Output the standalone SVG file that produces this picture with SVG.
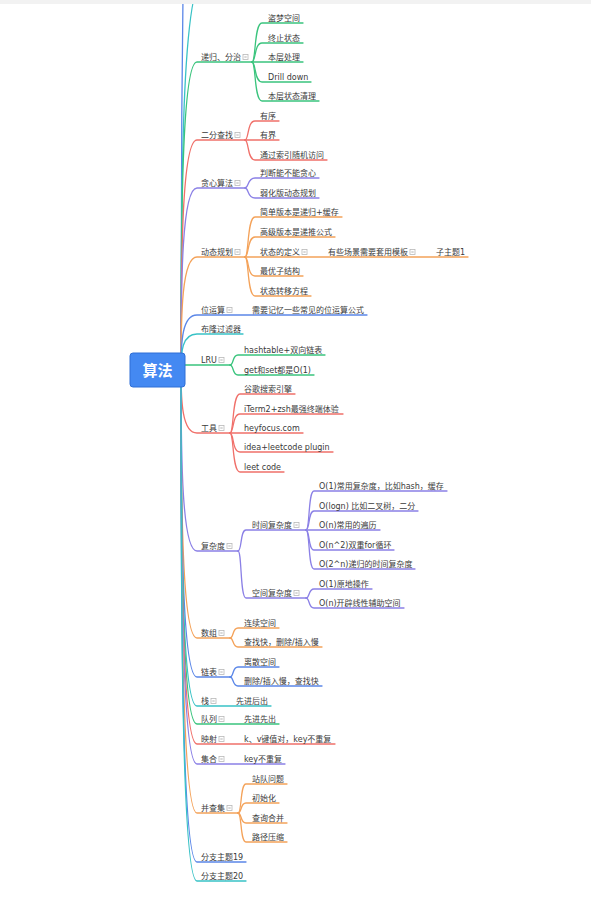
<svg xmlns="http://www.w3.org/2000/svg" width="591" height="905" viewBox="0 0 591 905">
<style>
.t{font-family:"DejaVu Sans","Noto Sans CJK SC",sans-serif;font-size:8px;fill:#3a3a3a}
.root{font-family:"Noto Sans CJK SC","DejaVu Sans",sans-serif;font-size:15px;font-weight:bold;fill:#fff}
path{fill:none;stroke-width:1.3;stroke-linecap:round}
.g{stroke:#3ac47d}.r{stroke:#f0706a}.p{stroke:#8b80e6}.o{stroke:#f4a259}.b{stroke:#5b87e8}.c{stroke:#38c2c6}
.ic rect{fill:#fff;stroke:#b8b8b8;stroke-width:0.8}
.ic line{stroke:#a0a0a0;stroke-width:0.8}
</style>
<defs>
<g id="icon" class="ic"><rect x="0" y="-2.5" width="5" height="5"/><line x1="1.3" y1="0" x2="3.7" y2="0"/></g>
</defs>
<rect width="591" height="905" fill="#fff"/>
<g id="connectors">
<path class="b" d="M181,370 C181,150 183,-100 186,-300"/>
<path class="c" d="M181,370 C181,150 183,-20 205,-25"/>
<!-- 递归、分治 -->
<path class="g" d="M181,370 C181,216 182,62 197,62 L252,62"/>
<path class="g" d="M252,62 C256,62 254,23 262,23 L303,23"/>
<path class="g" d="M252,62 C256,62 254,43 262,43 L303,43"/>
<path class="g" d="M252,62 L303,62"/>
<path class="g" d="M252,62 C256,62 254,82 262,82 L311,82"/>
<path class="g" d="M252,62 C256,62 254,101 262,101 L319,101"/>
<!-- 二分查找 -->
<path class="r" d="M181,370 C181,255 182,140 197,140 L245,140"/>
<path class="r" d="M245,140 C249,140 247,121 255,121 L279,121"/>
<path class="r" d="M245,140 L279,140"/>
<path class="r" d="M245,140 C249,140 247,160 255,160 L327,160"/>
<!-- 贪心算法 -->
<path class="p" d="M181,370 C181,279 182,188 197,188 L245,188"/>
<path class="p" d="M245,188 C249,188 247,178 255,178 L319,178"/>
<path class="p" d="M245,188 C249,188 247,198 255,198 L319,198"/>
<!-- 动态规划 -->
<path class="o" d="M181,370 C181,313 182,257 197,257 L245,257"/>
<path class="o" d="M245,257 C249,257 247,217 255,217 L342,217"/>
<path class="o" d="M245,257 C249,257 247,237 255,237 L335,237"/>
<path class="o" d="M245,257 L468,257"/>
<path class="o" d="M245,257 C249,257 247,276 255,276 L303,276"/>
<path class="o" d="M245,257 C249,257 247,296 255,296 L311,296"/>
<!-- 位运算 -->
<path class="b" d="M181,370 C181,342 182,315 197,315 L367,315"/>
<!-- 布隆过滤器 -->
<path class="c" d="M181,370 C181,352 182,334 197,334 L243,334"/>
<!-- LRU -->
<path class="g" d="M185,365 L230,365"/>
<path class="g" d="M230,365 C234,365 232,355 238,355 L325,355"/>
<path class="g" d="M230,365 C234,365 232,375 238,375 L314,375"/>
<!-- 工具 -->
<path class="r" d="M181,370 C181,401 182,433 197,433 L230,433"/>
<path class="r" d="M230,433 C234,433 232,394 240,394 L295,394"/>
<path class="r" d="M230,433 C234,433 232,414 240,414 L343,414"/>
<path class="r" d="M230,433 L303,433"/>
<path class="r" d="M230,433 C234,433 232,452 240,452 L333,452"/>
<path class="r" d="M230,433 C234,433 232,472 240,472 L284,472"/>
<!-- 复杂度 -->
<path class="p" d="M181,370 C181,460 182,551 197,551 L238,551"/>
<path class="p" d="M238,551 C242,551 240,530 246,530 L306,530"/>
<path class="p" d="M238,551 C242,551 240,598 246,598 L306,598"/>
<path class="p" d="M306,530 C310,530 308,491 314,491 L447,491"/>
<path class="p" d="M306,530 C310,530 308,511 314,511 L418,511"/>
<path class="p" d="M306,530 L380,530"/>
<path class="p" d="M306,530 C310,530 308,550 314,550 L394,550"/>
<path class="p" d="M306,530 C310,530 308,569 314,569 L415,569"/>
<path class="p" d="M306,598 C310,598 308,589 314,589 L372,589"/>
<path class="p" d="M306,598 C310,598 308,608 314,608 L404,608"/>
<!-- 数组 -->
<path class="o" d="M181,370 C181,504 182,638 197,638 L230,638"/>
<path class="o" d="M230,638 C234,638 232,628 238,628 L279,628"/>
<path class="o" d="M230,638 C234,638 232,647 238,647 L322,647"/>
<!-- 链表 -->
<path class="b" d="M181,370 C181,524 182,677 197,677 L230,677"/>
<path class="b" d="M230,677 C234,677 232,667 238,667 L279,667"/>
<path class="b" d="M230,677 C234,677 232,686 238,686 L322,686"/>
<!-- 栈 -->
<path class="c" d="M181,370 C181,538 182,706 197,706 L271,706"/>
<!-- 队列 -->
<path class="g" d="M181,370 C181,547 182,724 197,724 L279,724"/>
<!-- 映射 -->
<path class="r" d="M181,370 C181,557 182,744 197,744 L335,744"/>
<!-- 集合 -->
<path class="p" d="M181,370 C181,567 182,764 197,764 L285,764"/>
<!-- 并查集 -->
<path class="o" d="M181,370 C181,591 182,813 197,813 L238,813"/>
<path class="o" d="M238,813 C242,813 240,784 246,784 L287,784"/>
<path class="o" d="M238,813 C242,813 240,803 246,803 L279,803"/>
<path class="o" d="M238,813 C242,813 240,823 246,823 L287,823"/>
<path class="o" d="M238,813 C242,813 240,842 246,842 L287,842"/>
<!-- 分支主题19/20 -->
<path class="b" d="M181,370 C181,616 182,862 197,862 L246,862"/>
<path class="c" d="M181,370 C181,625 182,881 197,881 L246,881"/>
</g>
<rect x="0" y="0" width="591" height="4" fill="#f2f2f2"/>
<g id="root">
<rect x="130" y="353" width="55" height="34" rx="3" fill="#4489f2" stroke="#2f6fd6" stroke-width="1"/>
<text class="root" x="157.5" y="375.5" text-anchor="middle">算法</text>
</g>
<g id="n-recursion">
<text class="t" x="201" y="60">递归、分治</text><use href="#icon" x="243" y="57"/>
</g>
<g id="n-r1"><text class="t" x="268" y="21">盗梦空间</text></g>
<g id="n-r2"><text class="t" x="268" y="41">终止状态</text></g>
<g id="n-r3"><text class="t" x="268" y="60">本层处理</text></g>
<g id="n-r4"><text class="t" x="268" y="80">Drill down</text></g>
<g id="n-r5"><text class="t" x="268" y="99">本层状态清理</text></g>
<g id="n-binary">
<text class="t" x="201" y="138">二分查找</text><use href="#icon" x="235" y="135"/>
</g>
<g id="n-b1"><text class="t" x="260" y="119">有序</text></g>
<g id="n-b2"><text class="t" x="260" y="138">有界</text></g>
<g id="n-b3"><text class="t" x="260" y="158">通过索引随机访问</text></g>
<g id="n-greedy">
<text class="t" x="201" y="186">贪心算法</text><use href="#icon" x="235" y="183"/>
</g>
<g id="n-g1"><text class="t" x="260" y="176">判断能不能贪心</text></g>
<g id="n-g2"><text class="t" x="260" y="196">弱化版动态规划</text></g>
<g id="n-dp">
<text class="t" x="201" y="255">动态规划</text><use href="#icon" x="235" y="252"/>
</g>
<g id="n-dp1"><text class="t" x="260" y="215">简单版本是递归+缓存</text></g>
<g id="n-dp2"><text class="t" x="260" y="235">高级版本是递推公式</text></g>
<g id="n-dp3"><text class="t" x="260" y="255">状态的定义</text><use href="#icon" x="302" y="252"/></g>
<g id="n-dp3a"><text class="t" x="328" y="255">有些场景需要套用模板</text><use href="#icon" x="410" y="252"/></g>
<g id="n-dp3a1"><text class="t" x="436" y="255">子主题1</text></g>
<g id="n-dp4"><text class="t" x="260" y="274">最优子结构</text></g>
<g id="n-dp5"><text class="t" x="260" y="294">状态转移方程</text></g>
<g id="n-bit">
<text class="t" x="201" y="313">位运算</text><use href="#icon" x="227" y="310"/>
</g>
<g id="n-bit1"><text class="t" x="252" y="313">需要记忆一些常见的位运算公式</text></g>
<g id="n-bloom"><text class="t" x="201" y="332">布隆过滤器</text></g>
<g id="n-lru">
<text class="t" x="201" y="363">LRU</text><use href="#icon" x="219" y="360"/>
</g>
<g id="n-lru1"><text class="t" x="244" y="353">hashtable+双向链表</text></g>
<g id="n-lru2"><text class="t" x="244" y="373">get和set都是O(1)</text></g>
<g id="n-tools">
<text class="t" x="201" y="431">工具</text><use href="#icon" x="219" y="428"/>
</g>
<g id="n-t1"><text class="t" x="244" y="392">谷歌搜索引擎</text></g>
<g id="n-t2"><text class="t" x="244" y="412">iTerm2+zsh最强终端体验</text></g>
<g id="n-t3"><text class="t" x="244" y="431">heyfocus.com</text></g>
<g id="n-t4"><text class="t" x="244" y="450">idea+leetcode plugin</text></g>
<g id="n-t5"><text class="t" x="244" y="470">leet code</text></g>
<g id="n-complexity">
<text class="t" x="201" y="549">复杂度</text><use href="#icon" x="227" y="546"/>
</g>
<g id="n-time">
<text class="t" x="252" y="528">时间复杂度</text><use href="#icon" x="294" y="525"/>
</g>
<g id="n-time1"><text class="t" x="319" y="489">O(1)常用复杂度，比如hash，缓存</text></g>
<g id="n-time2"><text class="t" x="319" y="509">O(logn) 比如二叉树，二分</text></g>
<g id="n-time3"><text class="t" x="319" y="528">O(n)常用的遍历</text></g>
<g id="n-time4"><text class="t" x="319" y="548">O(n^2)双重for循环</text></g>
<g id="n-time5"><text class="t" x="319" y="567">O(2^n)递归的时间复杂度</text></g>
<g id="n-space">
<text class="t" x="252" y="596">空间复杂度</text><use href="#icon" x="294" y="593"/>
</g>
<g id="n-space1"><text class="t" x="319" y="587">O(1)原地操作</text></g>
<g id="n-space2"><text class="t" x="319" y="606">O(n)开辟线性辅助空间</text></g>
<g id="n-array">
<text class="t" x="201" y="636">数组</text><use href="#icon" x="219" y="633"/>
</g>
<g id="n-array1"><text class="t" x="244" y="626">连续空间</text></g>
<g id="n-array2"><text class="t" x="244" y="645">查找快，删除/插入慢</text></g>
<g id="n-list">
<text class="t" x="201" y="675">链表</text><use href="#icon" x="219" y="672"/>
</g>
<g id="n-list1"><text class="t" x="244" y="665">离散空间</text></g>
<g id="n-list2"><text class="t" x="244" y="684">删除/插入慢，查找快</text></g>
<g id="n-stack">
<text class="t" x="201" y="704">栈</text><use href="#icon" x="211" y="701"/>
</g>
<g id="n-stack1"><text class="t" x="236" y="704">先进后出</text></g>
<g id="n-queue">
<text class="t" x="201" y="722">队列</text><use href="#icon" x="219" y="719"/>
</g>
<g id="n-queue1"><text class="t" x="244" y="722">先进先出</text></g>
<g id="n-map">
<text class="t" x="201" y="742">映射</text><use href="#icon" x="219" y="739"/>
</g>
<g id="n-map1"><text class="t" x="244" y="742">k、v键值对，key不重复</text></g>
<g id="n-set">
<text class="t" x="201" y="762">集合</text><use href="#icon" x="219" y="759"/>
</g>
<g id="n-set1"><text class="t" x="244" y="762">key不重复</text></g>
<g id="n-uf">
<text class="t" x="201" y="811">并查集</text><use href="#icon" x="227" y="808"/>
</g>
<g id="n-uf1"><text class="t" x="252" y="782">站队问题</text></g>
<g id="n-uf2"><text class="t" x="252" y="801">初始化</text></g>
<g id="n-uf3"><text class="t" x="252" y="821">查询合并</text></g>
<g id="n-uf4"><text class="t" x="252" y="840">路径压缩</text></g>
<g id="n-b19"><text class="t" x="201" y="860">分支主题19</text></g>
<g id="n-b20"><text class="t" x="201" y="879">分支主题20</text></g>
</svg>
